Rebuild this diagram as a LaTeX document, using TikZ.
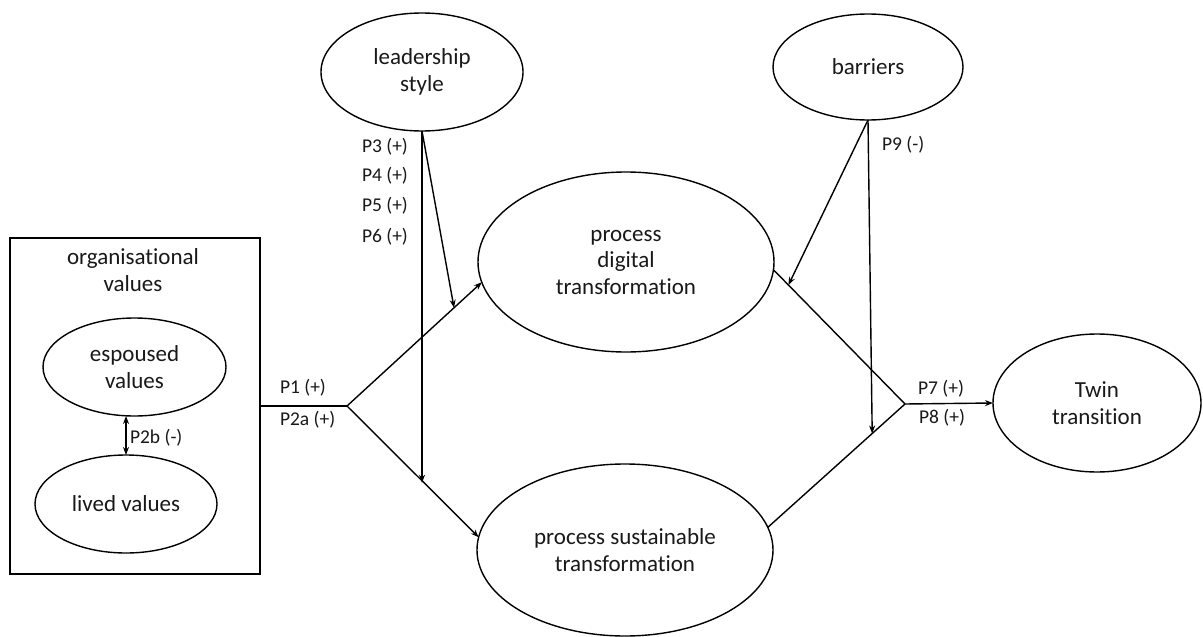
\documentclass[tikz,border=0pt]{standalone}
\usepackage{fontspec}
\setmainfont{Carlito}[Ligatures=NoCommon]
\usetikzlibrary{calc,arrows.meta,shapes.geometric}
\begin{document}
\begin{tikzpicture}[x=1pt,y=-1pt,
  every node/.style={inner sep=0pt,outer sep=0pt},
  conc/.style={draw=black,line width=1.4pt,ellipse,align=center,text=black!90,
    font=\fontsize{23}{26.5}\selectfont},
  lbl/.style={anchor=west,font=\fontsize{19.5}{22}\selectfont,text=black!90},
  conn/.style={draw=black,line width=1.4pt},
  arr/.style={conn,-{Stealth[length=8pt,width=6pt]}},
  darr/.style={conn,{Stealth[length=8pt,width=6pt]}-{Stealth[length=8pt,width=6pt]}}
]
\useasboundingbox (0,0) rectangle (1203,637);
\fill[white] (0,0) rectangle (1203,637);

% organisational values box
\node[draw=black,line width=1.4pt,minimum width=250pt,minimum height=336pt] (box) at (135,406) {};
\node[align=center,font=\fontsize{23}{26.5}\selectfont,text=black!90] (orgt) at (133,270) {organisational\\values};
\node[conc,minimum width=183pt,minimum height=98pt] (esp) at (134.5,367) {espoused\\values};
\node[conc,minimum width=182pt,minimum height=98pt] (lived) at (126,504) {lived values};

% other concepts
\node[conc,minimum width=202pt,minimum height=118pt] (lead) at (422,72) {leadership\\style};
\node[conc,minimum width=190pt,minimum height=106pt] (barr) at (868,67) {barriers};
\node[conc,minimum width=296pt,minimum height=180pt] (dig) at (626,262) {process\\digital\\transformation};
\node[conc,minimum width=296pt,minimum height=172pt] (sus) at (625,550) {process sustainable\\transformation};
\node[conc,minimum width=208pt,minimum height=138pt] (twin) at (1097,403) {Twin\\transition};

% junctions
\coordinate (J1) at (347,406);
\coordinate (J2) at (905,404);
\coordinate (digL) at (dig.188);
\coordinate (susL) at (sus.175);
\coordinate (digR) at (dig.-3);
\coordinate (susR) at (sus.9);

% connectors
\draw[conn] (box.east) -- (J1);
\draw[arr] (J1) -- (digL);
\draw[arr] (J1) -- (susL);
\draw[conn] (digR) -- (J2);
\draw[conn] (susR) -- (J2);
\draw[arr] (J2) -- (twin.west);
\draw[darr] (lived.north) -- (lived.north |- esp.south);

% moderators
\coordinate (Ld) at ($(J1)!0.794!(digL)$);
\coordinate (Ls) at ($(J1)!0.585!(susL)$);
\coordinate (Bd) at ($(digR)!0.114!(J2)$);
\coordinate (Bs) at ($(susR)!0.761!(J2)$);
\draw[arr] (lead.south) -- (Ld);
\draw[arr] (lead.south) -- (lead.south |- Ls);
\draw[arr] (barr.south) -- (Bd);
\draw[arr] (barr.south) -- (Bs);

% labels
\node[lbl] (l2b) at (130,438) {P2b (-)};
\node[lbl] (l1) at (280,388) {P1 (+)};
\node[lbl] (l2a) at (280,420) {P2a (+)};
\node[lbl] (l3) at (362,147) {P3 (+)};
\node[lbl] (l4) at (362,176) {P4 (+)};
\node[lbl] (l5) at (362,206) {P5 (+)};
\node[lbl] (l6) at (362,237) {P6 (+)};
\node[lbl] (l9) at (882,145) {P9 (-)};
\node[lbl] (l7) at (918,389) {P7 (+)};
\node[lbl] (l8) at (919,418) {P8 (+)};
\end{tikzpicture}
\end{document}
